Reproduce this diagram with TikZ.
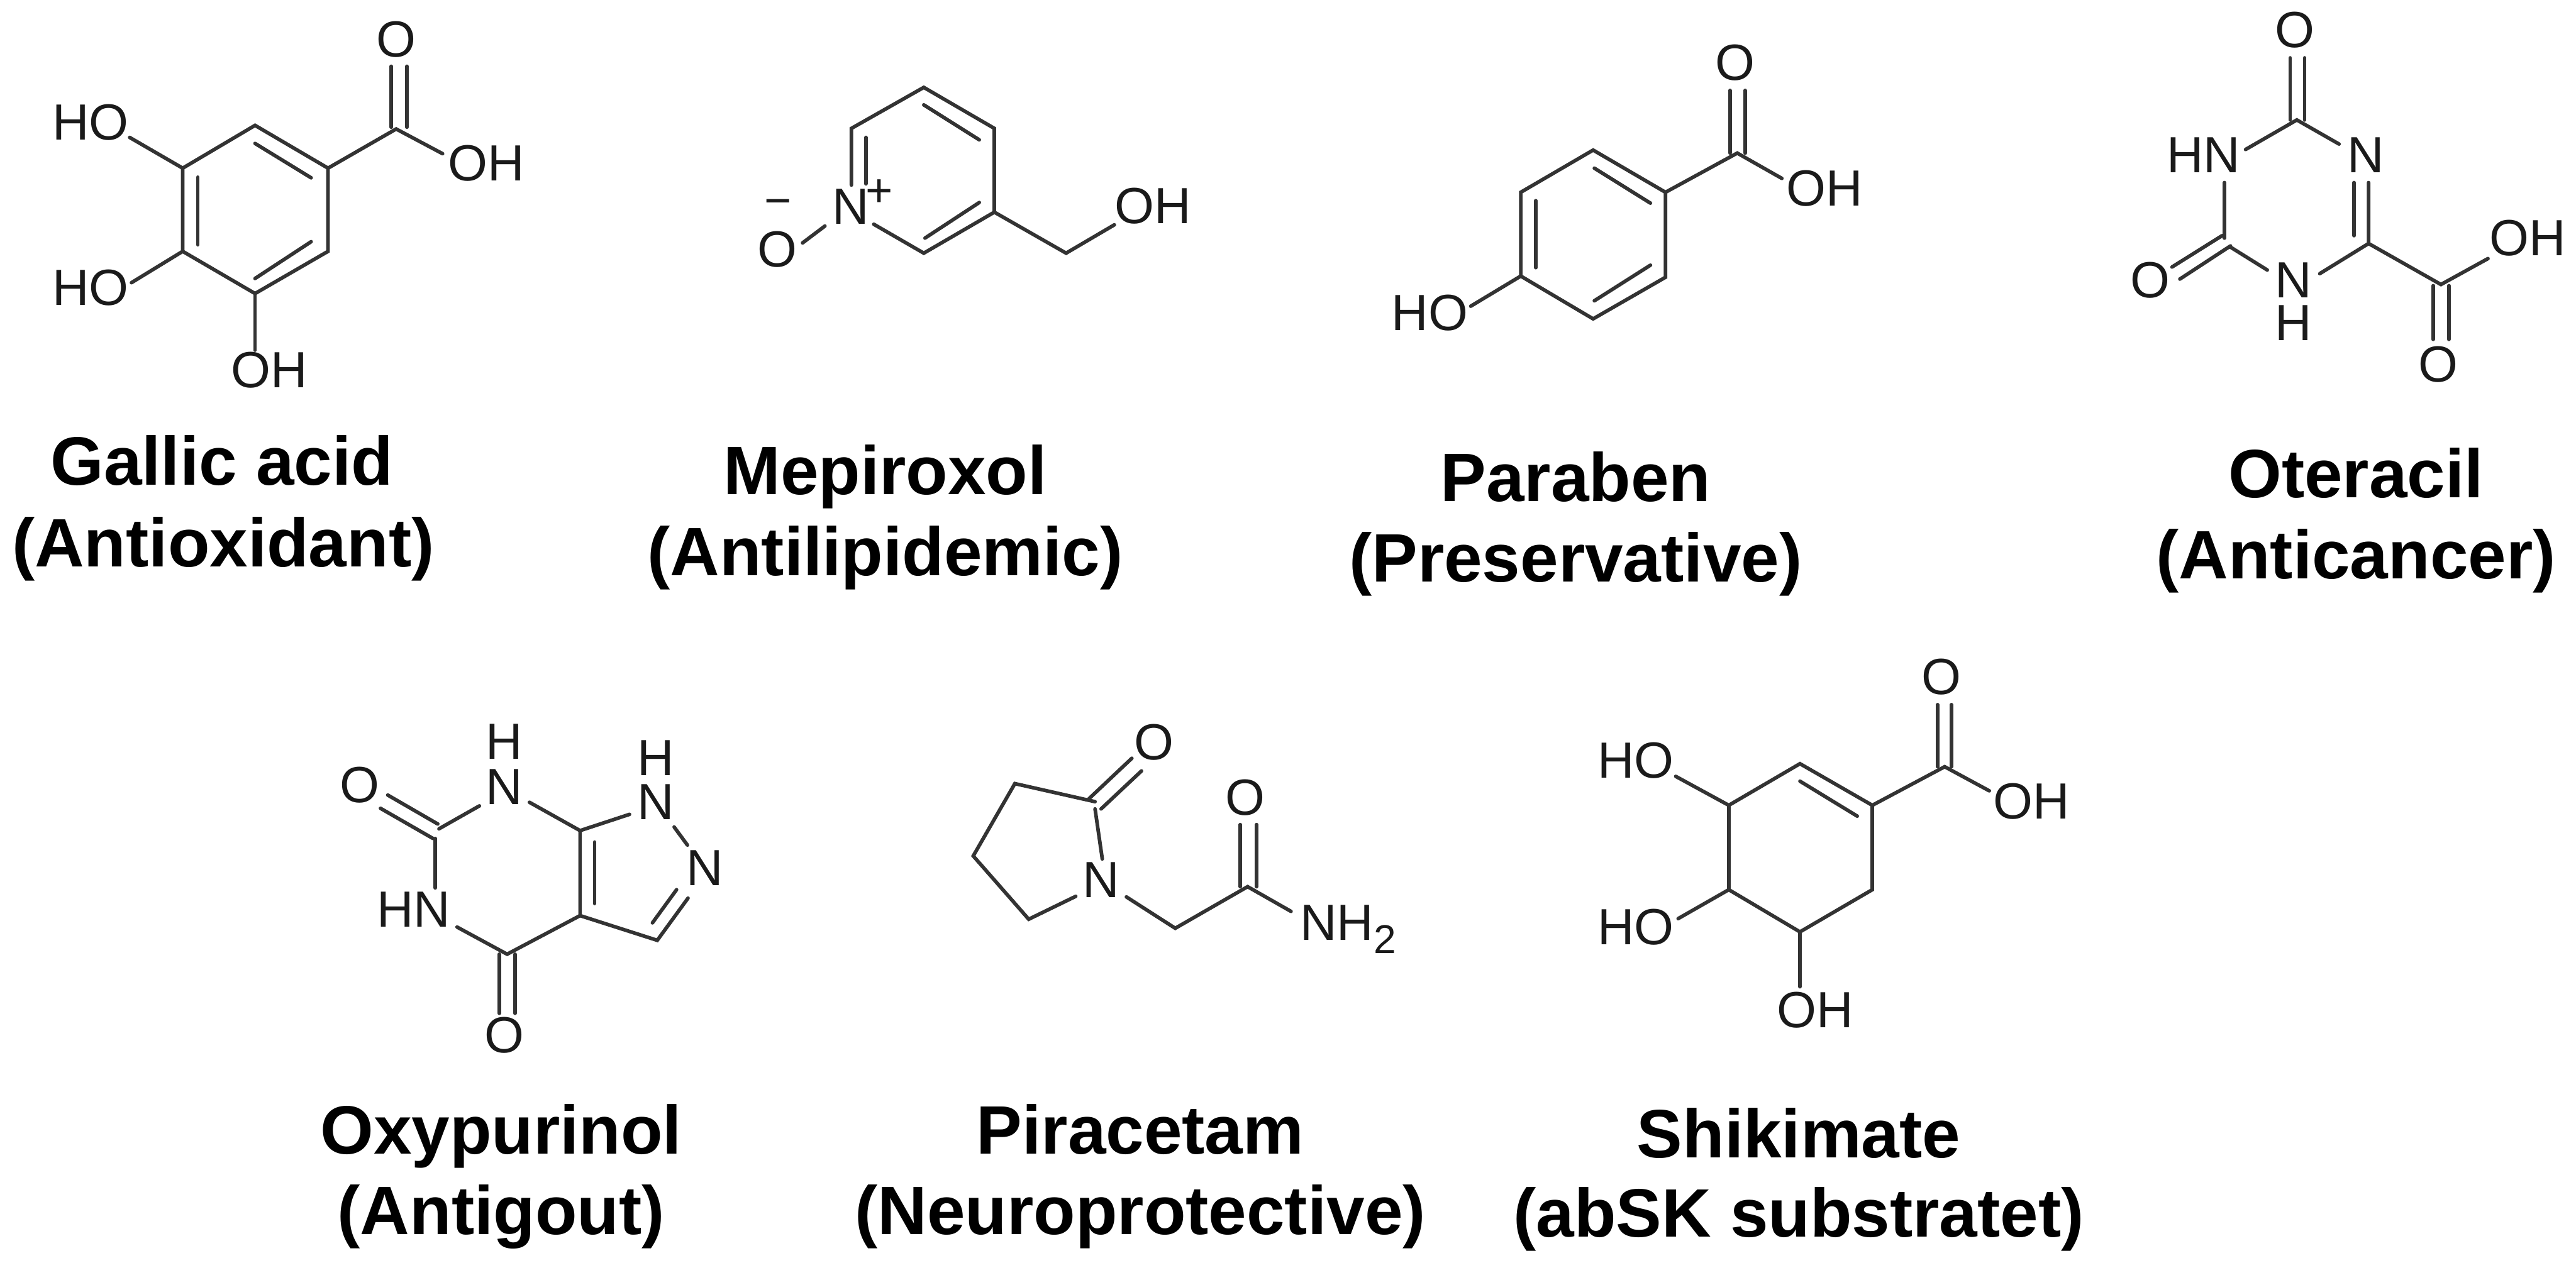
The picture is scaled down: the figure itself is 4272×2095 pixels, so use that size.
\documentclass[tikz,border=0pt]{standalone}
\usepackage{fontspec}
\setmainfont{Liberation Sans}
\definecolor{bondgrey}{HTML}{333333}
\definecolor{inkgrey}{HTML}{1A1A1A}
\tikzset{
  bond/.style={draw=bondgrey,line width=1.7pt,line cap=round,line join=miter},
  atom/.style={inner sep=0pt,outer sep=0pt,text=inkgrey,text height=17.2pt,text depth=0pt,font=\fontsize{24}{24}\selectfont},
  chargesign/.style={inner sep=0pt,outer sep=0pt,text=inkgrey,font=\fontsize{22}{22}\selectfont},
  caption/.style={inner sep=0pt,outer sep=0pt,text=black,text height=23pt,text depth=0pt,font=\fontsize{32.3}{32.3}\selectfont\bfseries}
}
\begin{document}
\begin{tikzpicture}[x=0.01cm,y=-0.01cm]
\useasboundingbox (0,0) rectangle (4272,2095);

% ---------- Gallic acid
\coordinate (g1) at (423,208); \coordinate (g2) at (544,279); \coordinate (g3) at (544,417);
\coordinate (g4) at (423,487); \coordinate (g5) at (303,417); \coordinate (g6) at (303,279);
\coordinate (gc) at (657,214);
\coordinate (gd1a) at (649,211); \coordinate (gd1b) at (649,110);
\coordinate (gd2a) at (675,211); \coordinate (gd2b) at (675,110);
\coordinate (goh) at (734,255); \coordinate (gho1) at (215,228); \coordinate (gho2) at (218,469); \coordinate (goh3) at (423,581);
\coordinate (gi1a) at (328,294); \coordinate (gi1b) at (328,406);
\coordinate (gi2a) at (423,238); \coordinate (gi2b) at (516,295);
\coordinate (gi3a) at (516,401); \coordinate (gi3b) at (423,462);
\node[atom] (gO) at (657,64) {O};
\node[atom] (gOH) at (806,270) {OH};
\node[atom] (gHOa) at (150,202) {HO};
\node[atom] (gHOb) at (150,476) {HO};
\node[atom] (gOHc) at (447,613) {OH};
\draw[bond] (g1) -- (g2) -- (g3) -- (g4) -- (g5) -- (g6) -- cycle;
\draw[bond] (g2) -- (gc) -- (goh);
\draw[bond] (gd1a) -- (gd1b); \draw[bond] (gd2a) -- (gd2b);
\draw[bond] (g6) -- (gho1); \draw[bond] (g5) -- (gho2); \draw[bond] (g4) -- (goh3);
\draw[bond] (gi1a) -- (gi1b); \draw[bond] (gi2a) -- (gi2b); \draw[bond] (gi3a) -- (gi3b);
\node[caption] (gT1) at (368,764) {Gallic acid};
\node[caption] (gT2) at (370,900) {(Antioxidant)};

% ---------- Mepiroxol
\coordinate (m1) at (1532,145); \coordinate (m2) at (1649,213); \coordinate (m3) at (1649,352);
\coordinate (m4) at (1532,420); \coordinate (m5) at (1449,372); \coordinate (m6) at (1412,213);
\coordinate (m7) at (1412,307); \coordinate (mc) at (1768,420); \coordinate (moh) at (1848,373);
\coordinate (mo1) at (1331,403); \coordinate (mo2) at (1368,375);
\coordinate (mi1a) at (1436,228); \coordinate (mi1b) at (1436,305);
\coordinate (mi2a) at (1532,174); \coordinate (mi2b) at (1624,232);
\coordinate (mi3a) at (1624,336); \coordinate (mi3b) at (1534,395);
\node[atom] (mN) at (1411,342) {N};
\node[chargesign] (mP) at (1458,320) {+};
\node[atom] (mOH) at (1912,341) {OH};
\node[atom] (mO) at (1289,412) {O};
\node[chargesign] (mM) at (1290,345) {−};
\draw[bond] (m7) -- (m6) -- (m1) -- (m2) -- (m3) -- (m4) -- (m5);
\draw[bond] (m3) -- (mc) -- (moh);
\draw[bond] (mo1) -- (mo2);
\draw[bond] (mi1a) -- (mi1b); \draw[bond] (mi2a) -- (mi2b); \draw[bond] (mi3a) -- (mi3b);
\node[caption] (mT1) at (1468,780) {Mepiroxol};
\node[caption] (mT2) at (1468,914) {(Antilipidemic)};

% ---------- Paraben
\coordinate (p1) at (2642,249); \coordinate (p2) at (2762,319); \coordinate (p3) at (2762,460);
\coordinate (p4) at (2642,529); \coordinate (p5) at (2522,458); \coordinate (p6) at (2522,319);
\coordinate (pc) at (2881,254);
\coordinate (pd1a) at (2869,254); \coordinate (pd1b) at (2869,150);
\coordinate (pd2a) at (2894,254); \coordinate (pd2b) at (2894,150);
\coordinate (poh) at (2955,296); \coordinate (pho) at (2439,508);
\coordinate (pi1a) at (2547,333); \coordinate (pi1b) at (2547,444);
\coordinate (pi2a) at (2644,279); \coordinate (pi2b) at (2737,337);
\coordinate (pi3a) at (2737,440); \coordinate (pi3b) at (2644,499);
\node[atom] (pO) at (2878,103) {O};
\node[atom] (pOH) at (3026,311) {OH};
\node[atom] (pHO) at (2371,518) {HO};
\draw[bond] (p1) -- (p2) -- (p3) -- (p4) -- (p5) -- (p6) -- cycle;
\draw[bond] (p2) -- (pc) -- (poh);
\draw[bond] (pd1a) -- (pd1b); \draw[bond] (pd2a) -- (pd2b);
\draw[bond] (p5) -- (pho);
\draw[bond] (pi1a) -- (pi1b); \draw[bond] (pi2a) -- (pi2b); \draw[bond] (pi3a) -- (pi3b);
\node[caption] (pT1) at (2613,791) {Paraben};
\node[caption] (pT2) at (2613,925) {(Preservative)};

% ---------- Oteracil
\coordinate (o1) at (3809,199);
\coordinate (od1a) at (3798,199); \coordinate (od1b) at (3798,96);
\coordinate (od2a) at (3822,199); \coordinate (od2b) at (3822,96);
\coordinate (ohn) at (3724,248); \coordinate (onr) at (3879,239);
\coordinate (od3a) at (3928,303); \coordinate (o6) at (3928,404);
\coordinate (od4a) at (3904,303); \coordinate (od4b) at (3904,391);
\coordinate (onh) at (3847,454);
\coordinate (ov1) at (3689,303); \coordinate (ov2) at (3689,395); \coordinate (o4) at (3699,410);
\coordinate (onl) at (3760,448);
\coordinate (od5a) at (3685,391); \coordinate (od5b) at (3602,443);
\coordinate (od6a) at (3699,408); \coordinate (od6b) at (3615,463);
\coordinate (oc) at (4048,472); \coordinate (ooh) at (4126,429);
\coordinate (od7a) at (4035,474); \coordinate (od7b) at (4035,563);
\coordinate (od8a) at (4061,474); \coordinate (od8b) at (4061,563);
\node[atom] (oO1) at (3806,49) {O};
\node[atom] (oHN) at (3654,256) {HN};
\node[atom] (oN) at (3923,256) {N};
\node[atom] (oN2) at (3803,464) {N};
\node[atom] (oH2) at (3803,535) {H};
\node[atom] (oO2) at (3566,464) {O};
\node[atom] (oOH) at (4192,394) {OH};
\node[atom] (oO3) at (4044,603) {O};
\draw[bond] (ohn) -- (o1) -- (onr);
\draw[bond] (od1a) -- (od1b); \draw[bond] (od2a) -- (od2b);
\draw[bond] (od3a) -- (o6) -- (onh); \draw[bond] (od4a) -- (od4b);
\draw[bond] (ov1) -- (ov2);
\draw[bond] (o4) -- (onl);
\draw[bond] (od5a) -- (od5b); \draw[bond] (od6a) -- (od6b);
\draw[bond] (o6) -- (oc) -- (ooh);
\draw[bond] (od7a) -- (od7b); \draw[bond] (od8a) -- (od8b);
\node[caption] (oT1) at (3907,785) {Oteracil};
\node[caption] (oT2) at (3907,920) {(Anticancer)};

% ---------- Oxypurinol
\coordinate (y1a) at (643,1319); \coordinate (y1b) at (726,1367);
\coordinate (y2a) at (631,1341); \coordinate (y2b) at (718,1391);
\coordinate (y3a) at (728,1375); \coordinate (y3b) at (795,1337);
\coordinate (y4a) at (722,1391); \coordinate (y4b) at (722,1473);
\coordinate (y5a) at (758,1538); \coordinate (y4c) at (841,1583);
\coordinate (y6a) at (828,1583); \coordinate (y6b) at (828,1681);
\coordinate (y7a) at (854,1583); \coordinate (y7b) at (854,1681);
\coordinate (y3c) at (962,1519); \coordinate (y7c) at (962,1378);
\coordinate (yi1a) at (986,1397); \coordinate (yi1b) at (986,1499);
\coordinate (yn1) at (878,1331); \coordinate (yn2) at (1044,1351);
\coordinate (yn3a) at (1118,1372); \coordinate (yn3b) at (1140,1402);
\coordinate (yc3) at (1090,1560); \coordinate (yn4) at (1141,1490);
\coordinate (yi2a) at (1082,1531); \coordinate (yi2b) at (1122,1476);
\node[atom] (yH1) at (836,1229) {H};
\node[atom] (yN1) at (836,1304) {N};
\node[atom] (yO1) at (597,1301) {O};
\node[atom] (yHN) at (686,1508) {HN};
\node[atom] (yO2) at (836,1716) {O};
\node[atom] (yH2) at (1087,1256) {H};
\node[atom] (yN2) at (1087,1329) {N};
\node[atom] (yN3) at (1169,1439) {N};
\draw[bond] (y1a) -- (y1b); \draw[bond] (y2a) -- (y2b);
\draw[bond] (y3a) -- (y3b); \draw[bond] (y4a) -- (y4b);
\draw[bond] (y5a) -- (y4c) -- (y3c) -- (y7c) -- (yn1);
\draw[bond] (y7c) -- (yn2);
\draw[bond] (y6a) -- (y6b); \draw[bond] (y7a) -- (y7b);
\draw[bond] (yi1a) -- (yi1b); \draw[bond] (yn3a) -- (yn3b);
\draw[bond] (y3c) -- (yc3) -- (yn4); \draw[bond] (yi2a) -- (yi2b);
\node[caption] (yT1) at (831,1874) {Oxypurinol};
\node[caption] (yT2) at (831,2007) {(Antigout)};

% ---------- Piracetam
\coordinate (a1) at (1816,1330); \coordinate (a2) at (1683,1300); \coordinate (a3) at (1614,1420);
\coordinate (a4) at (1706,1525); \coordinate (a5) at (1784,1487);
\coordinate (a6) at (1816,1342); \coordinate (a7) at (1828,1425);
\coordinate (ad1a) at (1806,1325); \coordinate (ad1b) at (1877,1258);
\coordinate (ad2a) at (1826,1342); \coordinate (ad2b) at (1893,1279);
\coordinate (a8) at (1868,1488); \coordinate (a9) at (1949,1540); \coordinate (a10) at (2069,1471);
\coordinate (ad3a) at (2057,1471); \coordinate (ad3b) at (2057,1368);
\coordinate (ad4a) at (2084,1471); \coordinate (ad4b) at (2084,1368);
\coordinate (a11) at (2141,1512);
\node[atom] (aO1) at (1914,1230) {O};
\node[atom] (aN) at (1826,1459) {N};
\node[atom] (aO2) at (2065,1322) {O};
\node[atom,anchor=west] (aNH) at (2156,1530) {NH\raisebox{-6pt}{\fontsize{19}{19}\selectfont 2}};
\draw[bond] (a6) -- (a7);
\draw[bond] (a1) -- (a2) -- (a3) -- (a4) -- (a5);
\draw[bond] (ad1a) -- (ad1b); \draw[bond] (ad2a) -- (ad2b);
\draw[bond] (a8) -- (a9) -- (a10) -- (a11);
\draw[bond] (ad3a) -- (ad3b); \draw[bond] (ad4a) -- (ad4b);
\node[caption] (aT1) at (1891,1874) {Piracetam};
\node[caption] (aT2) at (1891,2007) {(Neuroprotective)};

% ---------- Shikimate
\coordinate (s1) at (2985,1267); \coordinate (s2) at (3105,1336); \coordinate (s3) at (3105,1476);
\coordinate (s4) at (2985,1546); \coordinate (s5) at (2867,1476); \coordinate (s6) at (2867,1336);
\coordinate (sc) at (3225,1272);
\coordinate (sd1a) at (3213,1272); \coordinate (sd1b) at (3213,1169);
\coordinate (sd2a) at (3236,1272); \coordinate (sd2b) at (3236,1169);
\coordinate (soh) at (3299,1312); \coordinate (sho1) at (2779,1288); \coordinate (sho2) at (2783,1524); \coordinate (soh3) at (2985,1637);
\coordinate (sia) at (2985,1296); \coordinate (sib) at (3080,1354);
\node[atom] (sO) at (3220,1122) {O};
\node[atom] (sOH) at (3369,1328) {OH};
\node[atom] (sHOa) at (2713,1260) {HO};
\node[atom] (sHOb) at (2713,1537) {HO};
\node[atom] (sOHc) at (3010,1675) {OH};
\draw[bond] (s1) -- (s2) -- (s3) -- (s4) -- (s5) -- (s6) -- cycle;
\draw[bond] (s2) -- (sc) -- (soh);
\draw[bond] (sd1a) -- (sd1b); \draw[bond] (sd2a) -- (sd2b);
\draw[bond] (s6) -- (sho1); \draw[bond] (s5) -- (sho2); \draw[bond] (s4) -- (soh3);
\draw[bond] (sia) -- (sib);
\node[caption] (sT1) at (2983,1880) {Shikimate};
\node[caption] (sT2) at (2983,2012) {(abSK substratet)};
\end{tikzpicture}
\end{document}
